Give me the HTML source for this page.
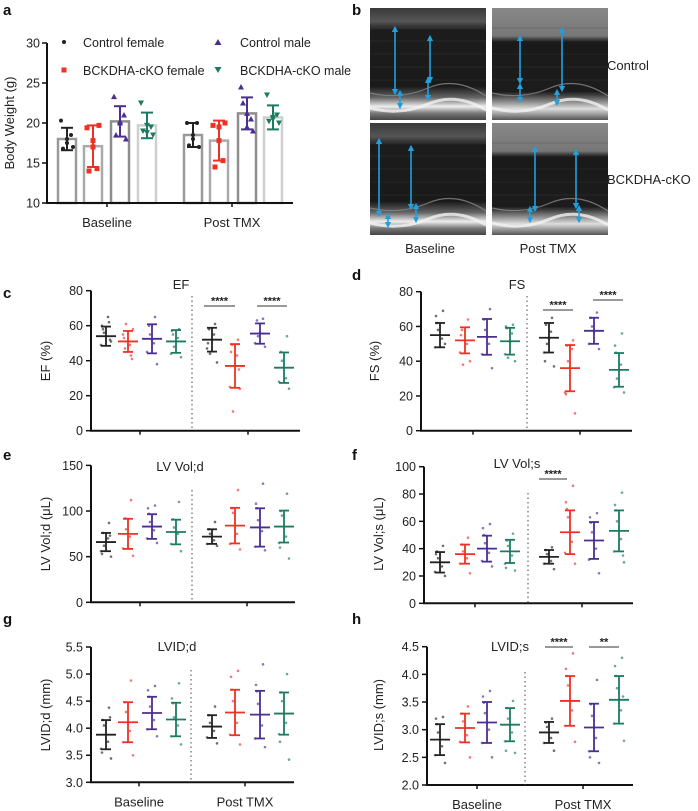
<!DOCTYPE html>
<html><head><meta charset="utf-8">
<style>
html,body{margin:0;padding:0;background:#fff;}
svg{display:block;font-family:"Liberation Sans",Arial,sans-serif;}
</style></head>
<body>
<svg id="fig" width="698" height="811" viewBox="0 0 698 811" xmlns="http://www.w3.org/2000/svg">
<defs>
<linearGradient id="echoA" x1="0" y1="0" x2="0" y2="1">
<stop offset="0" stop-color="#3a3a3a"/><stop offset="0.12" stop-color="#555"/><stop offset="0.2" stop-color="#1c1c1c"/><stop offset="0.7" stop-color="#1a1a1a"/><stop offset="0.8" stop-color="#666"/><stop offset="0.88" stop-color="#eee"/><stop offset="0.94" stop-color="#777"/><stop offset="1" stop-color="#444"/>
</linearGradient>
<linearGradient id="echoB" x1="0" y1="0" x2="0" y2="1">
<stop offset="0" stop-color="#888"/><stop offset="0.25" stop-color="#777"/><stop offset="0.3" stop-color="#1a1a1a"/><stop offset="0.75" stop-color="#1c1c1c"/><stop offset="0.82" stop-color="#777"/><stop offset="0.9" stop-color="#ddd"/><stop offset="1" stop-color="#555"/>
</linearGradient>
<marker id="arr" viewBox="0 0 6 6" refX="3" refY="3" markerWidth="4" markerHeight="4" orient="auto-start-reverse"><path d="M0,0 L6,3 L0,6 z" fill="#22a0dd"/></marker>
</defs>
<g id="root"></g>
</svg>
<script>
// ---------- Panel a data ----------
const aGroups = ["Control female","BCKDHA-cKO female","Control male","BCKDHA-cKO male"];
const aTimes = ["Baseline","Post TMX"];
const aMeans = [18.0,17.1,20.2,19.7, 18.5,17.8,21.2,20.7];
const aSD = [1.4,2.6,1.9,1.6, 1.5,2.5,2.0,1.5];
const aPts0 = [18,20.3,17,16.8,18.5,17.5];
const aPts1 = [17,19.4,19.7,14,14.3,17.8];
const aPts2 = [20.2,23.3,18,18.5,21,20];
const aPts3 = [19.7,22.5,18.5,19,19.5,18.8];
const aPts4 = [18.5,20,17,17.2,20,18];
const aPts5 = [17.8,19.7,20,14.5,15.3,19.5];
const aPts6 = [21.2,24.5,19,22.5,20.5,19.5];
const aPts7 = [20.7,23.5,20,20.2,21,20.5];
const aTicks = [10,15,20,25,30];

// ---------- EF ----------
const efMeans = [54,51,52.5,51, 52,37,55.5,36];
const efSD = [5.5,6,8.3,6.5, 6.8,12.5,5.8,8.7];
const efPts = [[54,58,62,49,51,56,65,60,52],[51,47,43,55,58,61,49,53,41],[52,60,65,45,38,55,50],[51,55,58,44,42,48,53,57],[52,58,61,47,39,44,55,50],[37,49,52,25,24,11,43,45,35],[56,63,64,50,48,54],[36,45,54,28,24,40,30]];
const efTicks = [0,20,40,60,80];
// ---------- FS ----------
const fsMeans = [55,52,54,51.5, 53.5,36,57.5,35];
const fsSD = [7,7.5,10.3,7.7, 8.5,13.3,7.5,9.7];
const fsPts = [[55,62,69,48,50,58,53,66],[52,58,64,45,40,38,50,55],[54,64,70,44,36,58,50],[51,59,61,44,40,42,56,60],[53,61,65,45,37,50,57,40],[36,49,52,22,10,40,47,21],[57,65,68,50,47,60],[35,45,56,25,22,30,38,49]];
const fsTicks = [0,20,40,60,80];
// ---------- LV Vol;d ----------
const vdMeans = [66,75,83,77, 72,84,82,83];
const vdSD = [10,16.5,13.5,13.5, 8,19.5,21,17.5];
const vdPts = [[66,76,87,56,50,62,70,53,73],[75,92,112,59,51,80,72],[83,97,106,70,65,88,79,103],[77,91,110,64,56,82,75],[72,80,88,64,62,75,68],[84,103,123,64,58,98,75],[82,103,130,61,57,90,78,108],[83,100,119,65,48,95,72,60]];
const vdTicks = [0,50,100,150];
// ---------- LV Vol;s ----------
const vsMeans = [30,36,40,38, 34,52,46,53];
const vsSD = [7.5,7,9.5,8.5, 5,16,13.5,15];
const vsPts = [[30,38,42,23,20,33,27,36],[36,43,48,29,22,38,33],[40,50,58,31,27,44,37,55],[38,46,51,29,24,42,35,26],[34,39,41,29,25,36,31],[52,69,86,37,29,63,45,74],[46,59,66,32,22,52,40,63],[53,68,81,38,30,60,47,72,35]];
const vsTicks = [0,20,40,60,80,100];
// ---------- LVID;d ----------
const ldMeans = [3.88,4.11,4.28,4.16, 4.03,4.29,4.25,4.27];
const ldSD = [0.27,0.37,0.3,0.31, 0.21,0.42,0.44,0.39];
const ldPts = [[3.88,4.15,4.38,3.62,3.44,4.05,3.75,3.55,4.2],[4.11,4.48,4.88,3.74,3.5,4.3,3.95],[4.28,4.58,4.78,3.98,3.85,4.4,4.15,4.7],[4.16,4.46,4.83,3.85,3.7,4.2,4.05,4.55],[4.03,4.24,4.4,3.83,3.72,4.1,3.95],[4.29,4.71,5.06,3.88,3.7,4.5,4.1,4.95],[4.25,4.68,5.18,3.81,3.65,4.45,4.05,4.8],[4.27,4.66,5.0,3.89,3.42,4.5,4.1,3.75]];
const ldTicks = [3.0,3.5,4.0,4.5,5.0,5.5];
// ---------- LVID;s ----------
const lsMeans = [2.82,3.03,3.13,3.09, 2.95,3.52,3.04,3.54];
const lsSD = [0.28,0.26,0.37,0.3, 0.19,0.45,0.43,0.43];
const lsPts = [[2.82,3.1,3.23,2.54,2.4,2.95,2.7,3.2],[3.03,3.29,3.42,2.78,2.5,3.15,2.9],[3.13,3.49,3.7,2.76,2.5,3.3,3.0,3.6],[3.09,3.39,3.52,2.79,2.58,3.2,2.95,2.62],[2.95,3.13,3.2,2.76,2.62,3.05,2.85],[3.52,3.97,4.38,3.07,2.78,3.8,3.35,4.1],[3.04,3.46,3.9,2.61,2.4,3.25,2.85,2.5],[3.54,3.97,4.3,3.11,2.8,3.75,3.35,4.15,3.6]];
const lsTicks = [2.0,2.5,3.0,3.5,4.0,4.5];

const COLORS = ["#222222","#ee3124","#4b2e91","#1c7a63"];
const NS = "http://www.w3.org/2000/svg";
const root = document.getElementById("root");
function mk(tag, attrs, parent, text){
  const e = document.createElementNS(NS, tag);
  for (const k in attrs) e.setAttribute(k, attrs[k]);
  if (text !== undefined) e.textContent = text;
  (parent||root).appendChild(e);
  return e;
}
const JIT = [0,-3,3,-5,5,-2,2,-4,4];

function fmt(v, dec){ return dec ? v.toFixed(1) : String(v); }

// ---------- generic scatter panel ----------
function scatterPanel(p){
  const g = mk("g", {});
  
  
  const y = v => p.y0 + (v - p.vmin) / (p.vmax - p.vmin) * (p.y1 - p.y0);
  // axes
  const ax = mk("path", {d:`M${p.ax},${y(p.vmax)} V${p.y0} H${p.xend}`, fill:"none", stroke:"#111", "stroke-width":2}, g);
  
  
  p.ticks.forEach(t => {
    mk("line", {x1:p.ax-5, x2:p.ax, y1:y(t), y2:y(t), stroke:"#111","stroke-width":1.5}, g);
    const tl = mk("text", {x:p.ax-8, y:y(t)+4.5, "text-anchor":"end", "font-size":12.5, fill:"#222"}, g, fmt(t, p.dec));
    
    
  });
  p.catTicks.forEach((cx,i) => {
    mk("line", {x1:cx, x2:cx, y1:p.y0, y2:p.y0+4, stroke:"#111","stroke-width":1.5}, g);
    if (p.catLabels){
      const cl = mk("text", {x:cx, y:p.y0+24, "text-anchor":"middle", "font-size":13, fill:"#222"}, g, aTimes[i]);
      
      
    }
  });
  // dotted divider
  mk("line", {x1:p.div, x2:p.div, y1:p.divTop, y2:p.y0, stroke:"#666", "stroke-width":1.2, "stroke-dasharray":"1.5,3"}, g);
  // title
  const tt = mk("text", {x:p.tx, y:p.ty, "text-anchor":"middle", "font-size":13, fill:"#222"}, g, p.title);
  
  
  // y label
  const yl = mk("text", {transform:`translate(${p.ylx},${p.yly}) rotate(-90)`, "text-anchor":"middle", "font-size":13, fill:"#222"}, g, p.ylabel);
  
  
  // groups
  p.means.forEach((m, i) => {
    const cx = p.gx[i], col = COLORS[i%4];
    const gg = mk("g", {}, g);
    
    
    p.pts[i].forEach((v, j) => {
      const c = mk("circle", {cx:cx + JIT[j%9], cy:y(v), r:1.3, fill:col, opacity:0.65}, gg);
      
      
    });
    const lo = y(m - p.sd[i]), hi = y(m + p.sd[i]);
    mk("line", {x1:cx, x2:cx, y1:lo, y2:hi, stroke:col, "stroke-width":1.8}, gg);
    mk("line", {x1:cx-5, x2:cx+5, y1:lo, y2:lo, stroke:col, "stroke-width":1.8}, gg);
    mk("line", {x1:cx-5, x2:cx+5, y1:hi, y2:hi, stroke:col, "stroke-width":1.8}, gg);
    const ml = mk("line", {x1:cx-10, x2:cx+10, y1:y(m), y2:y(m), stroke:col, "stroke-width":1.8}, gg);
    
    
  });
  (p.sig||[]).forEach(s => {
    const sg = mk("g", {}, g);
    
    
    mk("line", {x1:s[0], x2:s[1], y1:s[2], y2:s[2], stroke:"#333", "stroke-width":1}, sg);
    mk("text", {x:(s[0]+s[1])/2, y:s[2]-1.5, "text-anchor":"middle", "font-size":11, "font-weight":"bold", fill:"#222"}, sg, s[3]);
  });
}

const LGX = [106,128,152,176,212,235,260,284];
const RGX = [440,465,487,510,549,570,594,619];

scatterPanel({name:"ef-chart", title:"EF", tx:181, ty:289, ylabel:"EF (%)", ylx:50, yly:361, ax:91, xend:300, y0:430.7, y1:290.7, vmin:0, vmax:80, ticks:efTicks, dec:false, catTicks:[140,248], div:192, divTop:296, gx:LGX, means:efMeans, sd:efSD, pts:efPts, sig:[[204,235,306,"****"],[257,287,306,"****"]]});
scatterPanel({name:"fs-chart", title:"FS", tx:517, ty:289, ylabel:"FS (%)", ylx:379, yly:361, ax:421, xend:632, y0:430.7, y1:291.7, vmin:0, vmax:80, ticks:fsTicks, dec:false, catTicks:[473,580], div:527, divTop:296, gx:RGX, means:fsMeans, sd:fsSD, pts:fsPts, sig:[[543,573,310,"****"],[593,623,300,"****"]]});
scatterPanel({name:"lv-vol-d-chart", title:"LV Vol;d", tx:180, ty:471, ylabel:"LV Vol;d (\u03bcL)", ylx:50, yly:534, ax:91, xend:295, y0:602.3, y1:465.4, vmin:0, vmax:150, ticks:vdTicks, dec:false, catTicks:[140,247], div:192, divTop:490, gx:LGX, means:vdMeans, sd:vdSD, pts:vdPts});
scatterPanel({name:"lv-vol-s-chart", title:"LV Vol;s", tx:517, ty:468, ylabel:"LV Vol;s (\u03bcL)", ylx:383, yly:534, ax:424, xend:633, y0:603.3, y1:466.7, vmin:0, vmax:100, ticks:vsTicks, dec:false, catTicks:[475,582], div:528, divTop:493, gx:RGX, means:vsMeans, sd:vsSD, pts:vsPts, sig:[[539,567,479,"****"]]});
scatterPanel({name:"lvid-d-chart", title:"LVID;d", tx:177, ty:651, ylabel:"LVID;d (mm)", ylx:50, yly:715, ax:91, xend:294, y0:782.3, y1:647, vmin:3.0, vmax:5.5, ticks:ldTicks, dec:true, catTicks:[139,245], div:191, divTop:670, gx:LGX, means:ldMeans, sd:ldSD, pts:ldPts, catLabels:true});
scatterPanel({name:"lvid-s-chart", title:"LVID;s", tx:510, ty:651, ylabel:"LVID;s (mm)", ylx:383, yly:715, ax:427, xend:633, y0:785, y1:646.7, vmin:2.0, vmax:4.5, ticks:lsTicks, dec:true, catTicks:[477,583], div:525, divTop:672, gx:RGX, means:lsMeans, sd:lsSD, pts:lsPts, catLabels:true, sig:[[545,573,647,"****"],[589,619,647,"**"]]});

// ---------- panel a ----------
(function(){
  const g = mk("g", {});
  
  
  const y0 = 203, y1 = 43, vmin = 10, vmax = 30, ax = 47;
  const y = v => y0 + (v - vmin) / (vmax - vmin) * (y1 - y0);
  const bx = [67,93,120,147,193,219,247,273];
  const bstroke = ["#9a9a9a","#aaaaaa","#8e8e8e","#cfcfcf"];
  const pts = [aPts0,aPts1,aPts2,aPts3,aPts4,aPts5,aPts6,aPts7];
  aMeans.forEach((m,i) => {
    const b = mk("rect", {x:bx[i]-9, y:y(m), width:18, height:y0-y(m), fill:"#fff", stroke:bstroke[i%4], "stroke-width":2.5}, g);
    
    
  });
  aMeans.forEach((m,i) => {
    const cx = bx[i], col = COLORS[i%4];
    const lo = y(m - aSD[i]), hi = y(m + aSD[i]);
    mk("line", {x1:cx, x2:cx, y1:lo, y2:hi, stroke:col, "stroke-width":2}, g);
    mk("line", {x1:cx-6, x2:cx+6, y1:lo, y2:lo, stroke:col, "stroke-width":2}, g);
    mk("line", {x1:cx-6, x2:cx+6, y1:hi, y2:hi, stroke:col, "stroke-width":2}, g);
    pts[i].forEach((v,j) => {
      const px = cx + [0,-6,6,-4,4,0][j%6], py = y(v);
      let e;
      if (i%4===0) e = mk("circle", {cx:px, cy:py, r:2, fill:col}, g);
      else if (i%4===1) e = mk("rect", {x:px-2.5, y:py-2.5, width:5, height:5, fill:col}, g);
      else if (i%4===2) e = mk("path", {d:`M${px},${py-3} L${px+3},${py+2.5} L${px-3},${py+2.5} z`, fill:col}, g);
      else e = mk("path", {d:`M${px},${py+3} L${px+3},${py-2.5} L${px-3},${py-2.5} z`, fill:col}, g);
      
      
    });
  });
  mk("path", {d:`M${ax},${y1} V${y0} H293`, fill:"none", stroke:"#111", "stroke-width":2}, g);
  aTicks.forEach(t => {
    mk("line", {x1:ax-5, x2:ax, y1:y(t), y2:y(t), stroke:"#111","stroke-width":1.5}, g);
    const tl = mk("text", {x:ax-7, y:y(t)+4.5, "text-anchor":"end", "font-size":12.5, fill:"#222"}, g, String(t));
    
    
  });
  [107,232].forEach((cx,i) => {
    mk("line", {x1:cx, x2:cx, y1:y0, y2:y0+4, stroke:"#111","stroke-width":1.5}, g);
    const cl = mk("text", {x:cx, y:y0+24, "text-anchor":"middle", "font-size":13, fill:"#222"}, g, aTimes[i]);
    
    
  });
  const yl = mk("text", {transform:"translate(14,123) rotate(-90)", "text-anchor":"middle", "font-size":13, fill:"#222"}, g, "Body Weight (g)");
  
  
  // legend
  const lg = mk("g", {}, g);
  
  
  mk("circle", {cx:64, cy:42, r:2, fill:COLORS[0]}, lg);
  mk("rect", {x:61.5, y:67.5, width:5, height:5, fill:COLORS[1]}, lg);
  mk("path", {d:"M218,39 L221.5,45 L214.5,45 z", fill:COLORS[2]}, lg);
  mk("path", {d:"M218,73 L221.5,67 L214.5,67 z", fill:COLORS[3]}, lg);
  [["Control female",83,47],["BCKDHA-cKO female",83,75],["Control male",240,47],["BCKDHA-cKO male",240,75]].forEach(l => {
    const t = mk("text", {x:l[1], y:l[2], "font-size":12.5, fill:"#222"}, lg, l[0]);
    
    
  });
})();

// ---------- panel b (echo images) ----------
(function(){
  const g = mk("g", {});
  
  
  const imgs = [[370,8,"echoA"],[492,8,"echoB"],[370,123,"echoA"],[492,123,"echoB"]];
  imgs.forEach((im,k) => {
    const r = mk("rect", {x:im[0], y:im[1], width:116, height:112, fill:`url(#${im[2]})`}, g);
    
    
    const bx = im[0], by = im[1];
    // faint horizontal streaks
    for (let s=0;s<6;s++){
      mk("line", {x1:bx, x2:bx+116, y1:by+20+s*13, y2:by+20+s*13, stroke:"#444", "stroke-width":0.6, opacity:0.6}, g);
    }
    mk("path", {d:`M${bx},${by+100} Q${bx+30},${by+108} ${bx+58},${by+96} T${bx+116},${by+102}`, fill:"none", stroke:"#f2f2f2", "stroke-width":3, opacity:0.8}, g);
    mk("path", {d:`M${bx},${by+85} Q${bx+30},${by+92} ${bx+58},${by+80} T${bx+116},${by+88}`, fill:"none", stroke:"#888", "stroke-width":1.2, opacity:0.8}, g);
  });
  const arrows = [[395,29,92],[400,93,106],[430,38,80],[428,80,98],[520,38,81],[520,86,100],[562,30,89],[557,92,103],
                  [379,141,214],[388,216,225],[411,148,207],[416,206,220],[535,149,209],[530,209,220],[576,152,206],[579,208,220]];
  arrows.forEach(a => {
    const l = mk("line", {x1:a[0], x2:a[0], y1:a[1], y2:a[2], stroke:"#22a0dd", "stroke-width":1.6, "marker-start":"url(#arr)", "marker-end":"url(#arr)"}, g);
    
    
  });
  [["Control",607,70],["BCKDHA-cKO",607,184]].forEach(t => {
    const e = mk("text", {x:t[1], y:t[2], "font-size":13, fill:"#222"}, g, t[0]);
    
    
  });
  [["Baseline",430,253],["Post TMX",548,253]].forEach(t => {
    const e = mk("text", {x:t[1], y:t[2], "text-anchor":"middle", "font-size":13, fill:"#222"}, g, t[0]);
    
    
  });
})();

// ---------- panel letters ----------
[["a",3,15],["b",352,15],["c",3,298],["d",352,280],["e",3,460],["f",352,460],["g",3,624],["h",352,624]].forEach(l => {
  const t = mk("text", {x:l[1], y:l[2], "font-size":15, "font-weight":"bold", fill:"#111"}, root, l[0]);
  
  
});
</script>
</body></html>
